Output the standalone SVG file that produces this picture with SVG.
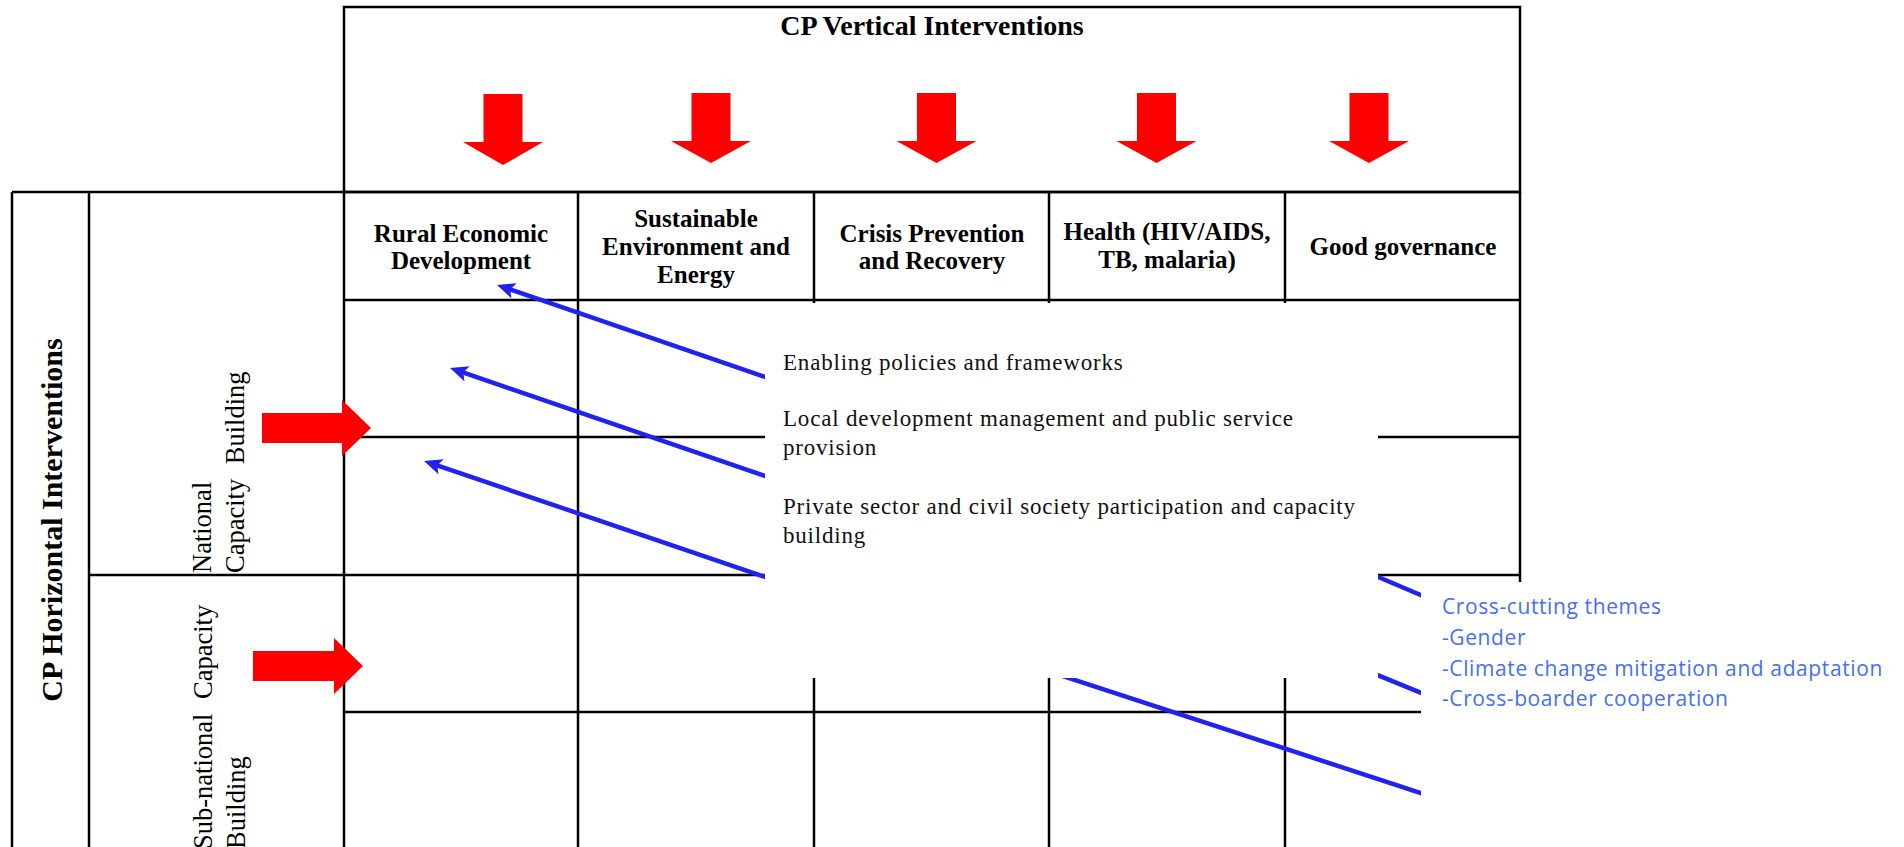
<svg xmlns="http://www.w3.org/2000/svg" width="1904" height="847" viewBox="0 0 1904 847">
  <style>
    .grid { stroke: #000; stroke-width: 2.5; fill: none; }
    .red { fill: #ff0000; }
    .blue { stroke: #2222ee; stroke-width: 4.5; fill: none; }
    .title { font-family: "Liberation Serif", "Times New Roman", serif; font-weight: bold; font-size: 28px; fill: #000; text-anchor: middle; }
    .head { font-family: "Liberation Serif", "Times New Roman", serif; font-weight: bold; font-size: 25px; fill: #000; text-anchor: middle; }
    .side { font-family: "Liberation Serif", "Times New Roman", serif; font-size: 26.5px; fill: #000; }
    .sideBold { font-family: "Liberation Serif", "Times New Roman", serif; font-weight: bold; font-size: 30px; fill: #000; text-anchor: middle; }
    .body { font-family: "Liberation Serif", "Times New Roman", serif; font-size: 23px; letter-spacing: 0.8px; fill: #111; }
    .theme { font-family: "Open Sans", "Noto Sans", sans-serif; font-size: 21px; letter-spacing: 0.6px; fill: #4570f2; }
    .cover { fill: #fff; stroke: none; }
  </style>
  <defs>
    <marker id="blueHead" viewBox="0 0 18 16" refX="12" refY="8" markerWidth="18" markerHeight="16" markerUnits="userSpaceOnUse" orient="auto">
      <path d="M0,0 L18,8 L0,16 L4,8 Z" fill="#2222ee"/>
    </marker>
  </defs>

  <rect width="1904" height="847" fill="#fff"/>

  <!-- table frame and cell rules -->
  <g id="grid" class="grid">
    <rect x="344" y="7" width="1176" height="185"/>
    <line x1="12" y1="192" x2="1520" y2="192"/>
    <line x1="12" y1="192" x2="12" y2="850"/>
    <line x1="89" y1="192" x2="89" y2="850"/>
    <line x1="344" y1="192" x2="344" y2="850"/>
    <line x1="578" y1="192" x2="578" y2="850"/>
    <line x1="814" y1="192" x2="814" y2="850"/>
    <line x1="1049" y1="192" x2="1049" y2="850"/>
    <line x1="1285" y1="192" x2="1285" y2="850"/>
    <line x1="1520" y1="192" x2="1520" y2="850"/>
    <line x1="344" y1="300" x2="1520" y2="300"/>
    <line x1="344" y1="437" x2="1520" y2="437"/>
    <line x1="89" y1="575" x2="1520" y2="575"/>
    <line x1="344" y1="712" x2="1520" y2="712"/>
  </g>

  <!-- title of the vertical interventions band -->
  <g id="vertical-title">
    <text class="title" x="932" y="35">CP Vertical Interventions</text>
  </g>

  <!-- red block arrows -->
  <g id="red-arrows" class="red">
    <polygon points="483.5,94 522.5,94 522.5,142 543,142 503,165 463,142 483.5,142"/>
    <polygon points="691.5,93 730.5,93 730.5,141 751,141 711,163 671,141 691.5,141"/>
    <polygon points="917,93 956,93 956,141 976.5,141 936.5,163 896.5,141 917,141"/>
    <polygon points="1137,93 1176,93 1176,141 1196.5,141 1156.5,163 1116.5,141 1137,141"/>
    <polygon points="1349.5,93 1388.5,93 1388.5,141 1409,141 1369,163 1329,141 1349.5,141"/>
    <polygon points="262,413 342,413 342,400 371,428 342,456 342,443 262,443"/>
    <polygon points="253,651 334,651 334,638 363,666 334,694 334,681 253,681"/>
  </g>

  <!-- column headings -->
  <g id="col-rural">
    <text class="head" x="461" y="242">Rural Economic</text>
    <text class="head" x="461" y="269">Development</text>
  </g>
  <g id="col-environment">
    <text class="head" x="696" y="227">Sustainable</text>
    <text class="head" x="696" y="255">Environment and</text>
    <text class="head" x="696" y="283">Energy</text>
  </g>
  <g id="col-crisis">
    <text class="head" x="932" y="242">Crisis Prevention</text>
    <text class="head" x="932" y="269">and Recovery</text>
  </g>
  <g id="col-health">
    <text class="head" x="1167" y="240">Health (HIV/AIDS,</text>
    <text class="head" x="1167" y="268">TB, malaria)</text>
  </g>
  <g id="col-governance">
    <text class="head" x="1403" y="255">Good governance</text>
  </g>

  <!-- row headings -->
  <g id="horizontal-title">
    <text class="sideBold" transform="translate(62,520) rotate(-90)">CP Horizontal Interventions</text>
  </g>
  <g id="row-national">
    <text class="side" transform="translate(211,573) rotate(-90)"><tspan x="0" y="0">National</tspan><tspan x="0" dy="33" word-spacing="8">Capacity Building</tspan></text>
  </g>
  <g id="row-subnational">
    <text class="side" transform="translate(212,849) rotate(-90)"><tspan x="0" y="0" word-spacing="8">Sub-national Capacity</tspan><tspan x="0" dy="33">Building</tspan></text>
  </g>

  <!-- blue connectors -->
  <g id="connectors" class="blue">
    <line x1="800" y1="388.9" x2="502.7" y2="286.9" marker-end="url(#blueHead)"/>
    <line x1="800" y1="488" x2="455.7" y2="369.9" marker-end="url(#blueHead)"/>
    <line x1="800" y1="588.8" x2="429.7" y2="462.9" marker-end="url(#blueHead)"/>
    <line x1="1440" y1="603.2" x2="1360" y2="569.3"/>
    <line x1="1440" y1="700.6" x2="1360" y2="667.8"/>
    <line x1="1440" y1="799.3" x2="1050" y2="671.8"/>
  </g>

  <!-- horizontal intervention list -->
  <g id="interventions-box">
    <rect class="cover" x="765" y="303" width="613" height="375"/>
    <text class="body" x="783" y="370">Enabling policies and frameworks</text>
    <text class="body" x="783" y="426">Local development management and public service</text>
    <text class="body" x="783" y="455">provision</text>
    <text class="body" x="783" y="514">Private sector and civil society participation and capacity</text>
    <text class="body" x="783" y="543">building</text>
  </g>

  <!-- cross-cutting themes list -->
  <g id="themes-box">
    <rect class="cover" x="1421" y="582" width="483" height="265"/>
    <text class="theme" x="1442" y="614">Cross-cutting themes</text>
    <text class="theme" x="1442" y="645">-Gender</text>
    <text class="theme" x="1442" y="676">-Climate change mitigation and adaptation</text>
    <text class="theme" x="1442" y="706">-Cross-boarder cooperation</text>
  </g>
</svg>
